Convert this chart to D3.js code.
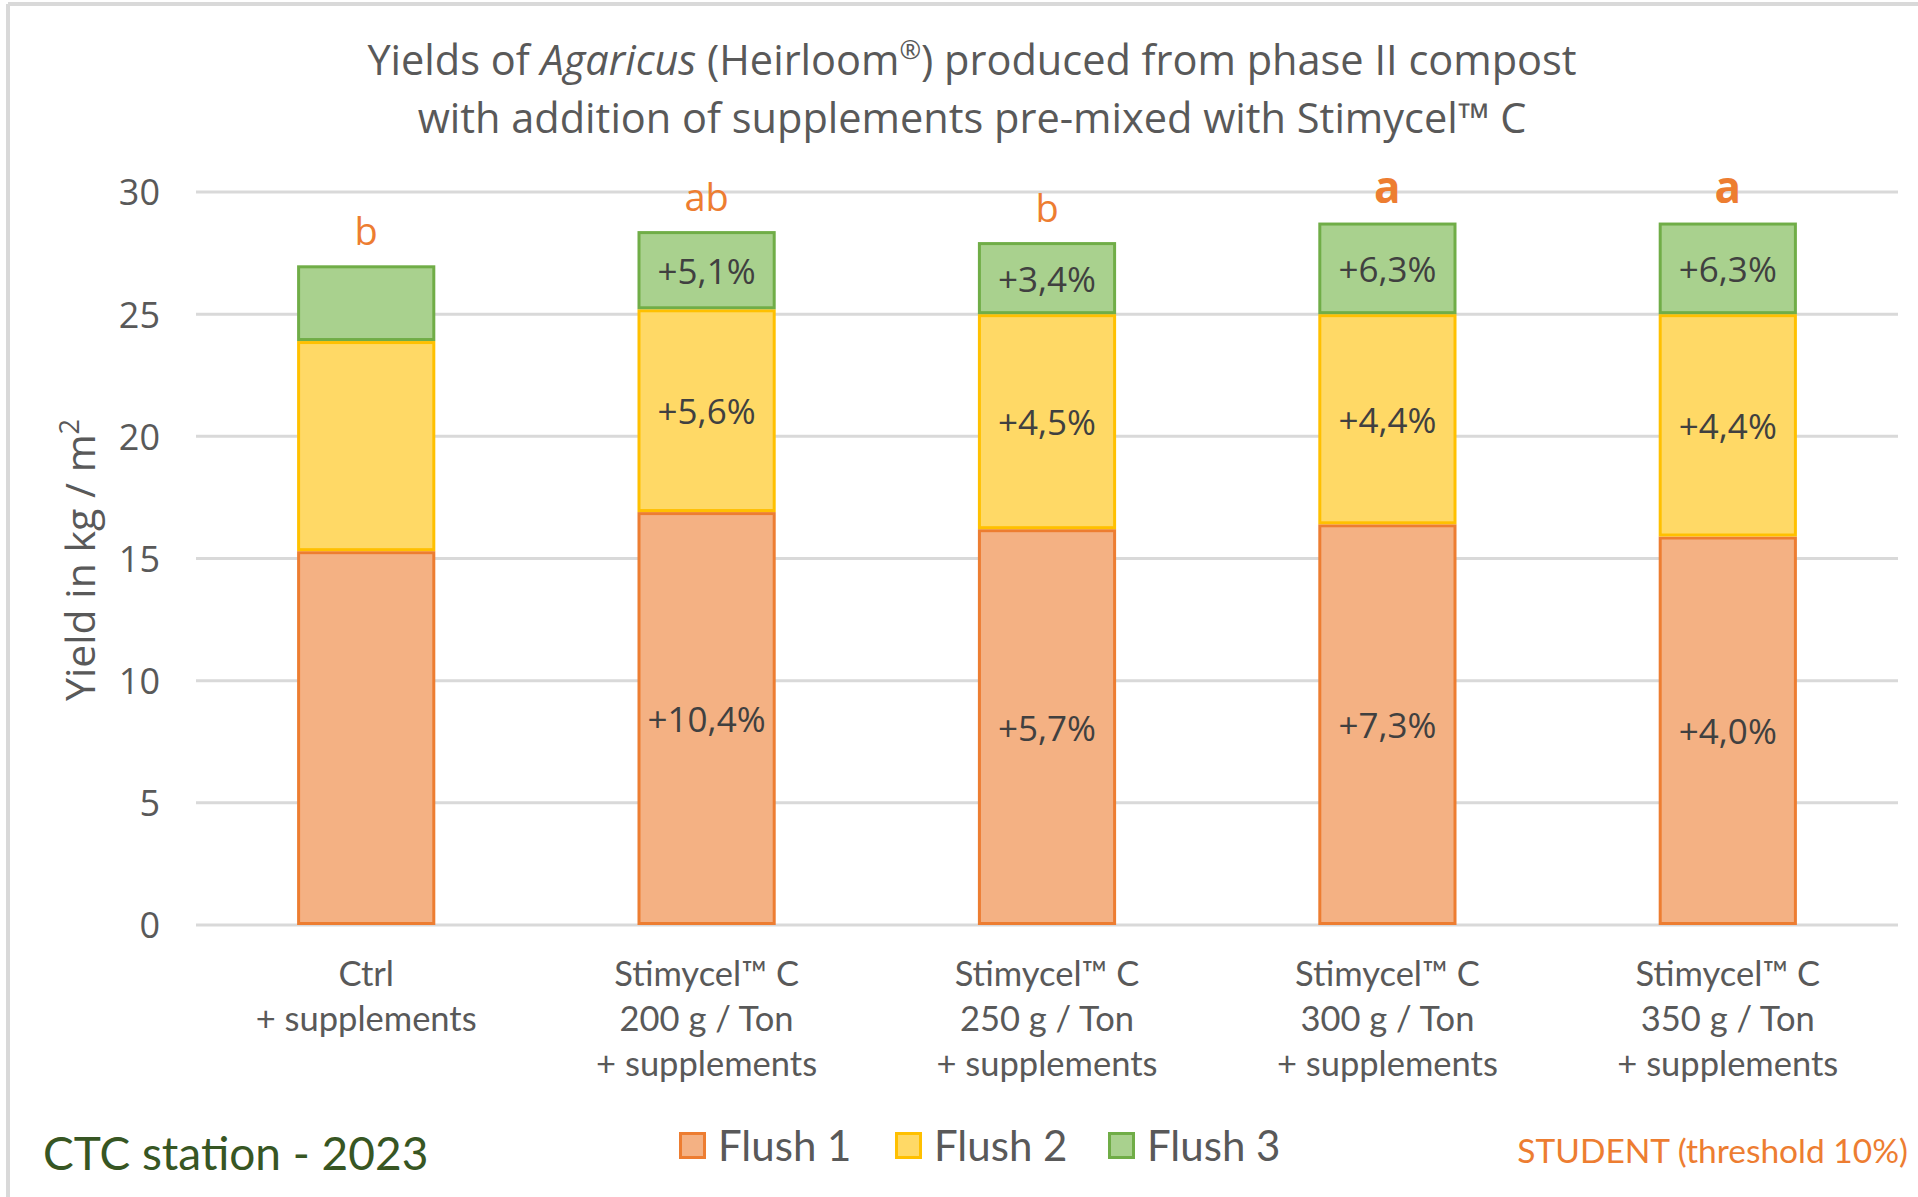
<!DOCTYPE html>
<html>
<head>
<meta charset="utf-8">
<script src="https://cdn.jsdelivr.net/npm/d3@7"></script>
<style>
  body { margin: 0; background: #fff; }
  svg { display: block; }
</style>
</head>
<body>
<div class="Canvas"></div>
<script>
const categories = ['Ctrl', '200', '250', '300', '350'];
const catLabels = [
  ['Ctrl', '+ supplements'],
  ['Stimycel™ C', '200 g / Ton', '+ supplements'],
  ['Stimycel™ C', '250 g / Ton', '+ supplements'],
  ['Stimycel™ C', '300 g / Ton', '+ supplements'],
  ['Stimycel™ C', '350 g / Ton', '+ supplements'],
];
const series = ['Flush 1', 'Flush 2', 'Flush 3'];
const flush1 = [15.3, 16.9, 16.2, 16.4, 15.9];
const flush2 = [8.6, 8.3, 8.8, 8.6, 9.1];
const flush3 = [3.1, 3.2, 2.95, 3.75, 3.75];
const pct1 = ['', '+10,4%', '+5,7%', '+7,3%', '+4,0%'];
const pct2 = ['', '+5,6%', '+4,5%', '+4,4%', '+4,4%'];
const pct3 = ['', '+5,1%', '+3,4%', '+6,3%', '+6,3%'];
const letters = ['b', 'ab', 'b', 'a', 'a'];
const yTicks = [0, 5, 10, 15, 20, 25, 30];

const width = 1918;
const height = 1197;
const plotLeft = 196;
const plotRight = 1898;
const plotTop = 192;
const plotBottom = 925;

const fills = ['#F4B183', '#FFD966', '#A9D18E'];
const strokes = ['#ED7D31', '#FFC000', '#70AD47'];
const orange = '#ED7D31';
const textGray = '#595959';
const calibri = 'Lato, Carlito, sans-serif';
const segoe = '"Open Sans", "Noto Sans", sans-serif';

const svg = d3.select('.Canvas').append('svg').attr('width', width).attr('height', height);

// frame
svg.append('line').attr('x1', 8).attr('x2', 8).attr('y1', 4).attr('y2', height)
  .attr('stroke', '#D9D9D9').attr('stroke-width', 4);
svg.append('line').attr('x1', 8).attr('x2', width).attr('y1', 4).attr('y2', 4)
  .attr('stroke', '#D9D9D9').attr('stroke-width', 4);

const x = d3.scaleBand().domain(categories).range([plotLeft, plotRight]).paddingInner(0.594).paddingOuter(0.297);
const y = d3.scaleLinear().domain([0, 30]).range([plotBottom, plotTop]);

// gridlines
svg.append('g').selectAll('line').data(yTicks).enter().append('line')
  .attr('x1', plotLeft).attr('x2', plotRight)
  .attr('y1', (d) => y(d)).attr('y2', (d) => y(d))
  .attr('stroke', '#D9D9D9').attr('stroke-width', 3);

// y axis labels
const yAxis = svg.append('g').attr('transform', `translate(${plotLeft - 36},0)`)
  .call(d3.axisLeft(y).tickValues(yTicks).tickSize(0).tickPadding(0));
yAxis.select('.domain').remove();
yAxis.selectAll('text').attr('font-family', segoe).attr('font-size', 36).attr('fill', textGray).attr('dy', '0.36em');

// stacked data
const table = categories.map((c, i) => ({ cat: c, 'Flush 1': flush1[i], 'Flush 2': flush2[i], 'Flush 3': flush3[i] }));
const stacked = d3.stack().keys(series)(table);
const pcts = [pct1, pct2, pct3];

stacked.forEach((layer, k) => {
  const g = svg.append('g');
  g.selectAll('rect').data(layer).enter().append('rect')
    .attr('x', (d) => x(d.data.cat) + 1.5)
    .attr('width', x.bandwidth() - 3)
    .attr('y', (d) => y(d[1]) + 1.5)
    .attr('height', (d) => y(d[0]) - y(d[1]) - 3)
    .attr('fill', fills[k])
    .attr('stroke', strokes[k])
    .attr('stroke-width', 3);
  g.selectAll('text').data(layer).enter().append('text')
    .attr('x', (d) => x(d.data.cat) + x.bandwidth() / 2)
    .attr('y', (d) => (y(d[0]) + y(d[1])) / 2)
    .attr('text-anchor', 'middle')
    .attr('dominant-baseline', 'central')
    .attr('font-family', segoe)
    .attr('font-size', 35)
    .attr('fill', '#404040')
    .text((d, i) => pcts[k][i]);
});

// significance letters
const topLayer = stacked[2];
svg.append('g').selectAll('text').data(topLayer).enter().append('text')
  .attr('x', (d) => x(d.data.cat) + x.bandwidth() / 2)
  .attr('y', (d) => y(d[1]) - 20)
  .attr('text-anchor', 'middle')
  .attr('font-family', segoe)
  .attr('font-size', (d, i) => (letters[i] == 'a' ? 44 : 38))
  .attr('font-weight', (d, i) => (letters[i] == 'a' ? 'bold' : 'normal'))
  .attr('fill', orange)
  .text((d, i) => letters[i]);

// x labels
const xl = svg.append('g').selectAll('text').data(categories).enter().append('text')
  .attr('x', (d) => x(d) + x.bandwidth() / 2)
  .attr('y', 986)
  .attr('text-anchor', 'middle')
  .attr('font-family', calibri)
  .attr('font-size', 34.5)
  .attr('fill', textGray);
xl.each(function (d, i) {
  const t = d3.select(this);
  catLabels[i].forEach((line, j) => {
    t.append('tspan').attr('x', x(d) + x.bandwidth() / 2).attr('dy', j == 0 ? 0 : 45).text(line);
  });
});

// title
const title = svg.append('text').attr('text-anchor', 'middle').attr('font-family', segoe)
  .attr('font-size', 41.5).attr('fill', textGray);
const t1 = title.append('tspan').attr('x', 972).attr('y', 75);
t1.append('tspan').text('Yields of ');
t1.append('tspan').attr('font-style', 'italic').text('Agaricus');
t1.append('tspan').text(' (Heirloom');
t1.append('tspan').attr('font-size', 26).attr('dy', -16).text('®');
t1.append('tspan').attr('dy', 16).text(') produced from phase II compost');
title.append('tspan').attr('x', 972).attr('y', 133).text('with addition of supplements pre-mixed with Stimycel™ C');

// y axis title
const yt = svg.append('text')
  .attr('transform', 'translate(95,560) rotate(-90)')
  .attr('text-anchor', 'middle')
  .attr('font-family', segoe)
  .attr('font-size', 41)
  .attr('fill', textGray);
yt.append('tspan').text('Yield in kg / m');
yt.append('tspan').attr('font-size', 27).attr('dy', -16).text('2');

// legend
const legendX = [679, 895, 1108];
const lg = svg.append('g').selectAll('g').data(series).enter().append('g')
  .attr('transform', (d, i) => `translate(${legendX[i]},1132)`);
lg.append('rect').attr('x', 1.5).attr('y', 1.5).attr('width', 24).attr('height', 24)
  .attr('fill', (d, i) => fills[i]).attr('stroke', (d, i) => strokes[i]).attr('stroke-width', 3);
lg.append('text').attr('x', 39).attr('y', 13).attr('dominant-baseline', 'central')
  .attr('font-family', calibri).attr('font-size', 42).attr('fill', textGray).text((d) => d);

// footer texts
svg.append('text').attr('x', 43).attr('y', 1170).attr('font-family', calibri)
  .attr('font-size', 46).attr('fill', '#375623').text('CTC station - 2023');
svg.append('text').attr('x', 1908).attr('y', 1163).attr('text-anchor', 'end').attr('font-family', calibri)
  .attr('font-size', 33.5).attr('fill', orange).text('STUDENT (threshold 10%)');
</script>
</body>
</html>
